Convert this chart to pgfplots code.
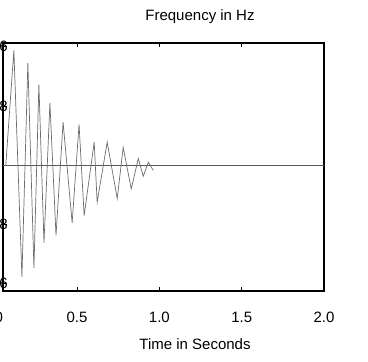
\documentclass[border=0pt]{standalone}
\usepackage{fontspec}
\setmainfont{Liberation Sans}
\usepackage{pgfplots}
\pgfplotsset{compat=1.18}
\begin{document}
\begin{tikzpicture}[x=1pt,y=1pt]
\begin{axis}[
  at={(0,0)}, anchor=south west,
  width=321pt, height=248pt, scale only axis,
  xmin=0.05, xmax=2.0, ymin=-17, ymax=16.5,
  axis line style={line width=1.8pt},
  xtick={0.5,1.0,1.5,2.0},
  xticklabels={0.5,1.0,1.5,2.0},
  ytick={-16,-8,8,16},
  yticklabels={-16,-8,8,16},
  ytick pos=left,
  tick style={black, line width=0.8pt},
  major tick length=4pt,
  tick align=inside,
  ticklabel style={font=\fontsize{15}{18}\selectfont},
  xticklabel style={anchor=north, inner sep=0pt, yshift=-21pt},
  yticklabel style={anchor=east, inner sep=0pt, xshift=5pt},
  /pgf/number format/assume math mode=true,
  clip=false,
]
\addplot[gray!70!black, line width=0.6pt] coordinates {(0.05,0) (2.0,0)};
\addplot[gray!85!black, line width=0.7pt] coordinates {
(0.067,0) (0.116,15.5) (0.165,-15.1) (0.201,13.8) (0.238,-13.9)
(0.268,10.9) (0.299,-10.5) (0.335,8.4) (0.372,-9.5) (0.415,5.8)
(0.470,-7.8) (0.512,5.5) (0.543,-6.8) (0.604,3.1) (0.622,-5.0)
(0.683,3.1) (0.744,-4.5) (0.780,2.4) (0.829,-3.2) (0.872,0.9)
(0.902,-1.5) (0.933,0.4) (0.963,-0.7)};
\node[font=\fontsize{15}{18}\selectfont, anchor=north, inner sep=0pt] at (axis cs:0,-17) [xshift=4pt, yshift=-21pt] {0};
\end{axis}
\node[font=\fontsize{15}{18}\selectfont] at (197,274) {Frequency in Hz};
\node[font=\fontsize{15}{18}\selectfont] at (192,-53) {Time in Seconds};
\pgfresetboundingbox
\path[use as bounding box] (-3,-71) rectangle (365,291);
\end{tikzpicture}
\end{document}
